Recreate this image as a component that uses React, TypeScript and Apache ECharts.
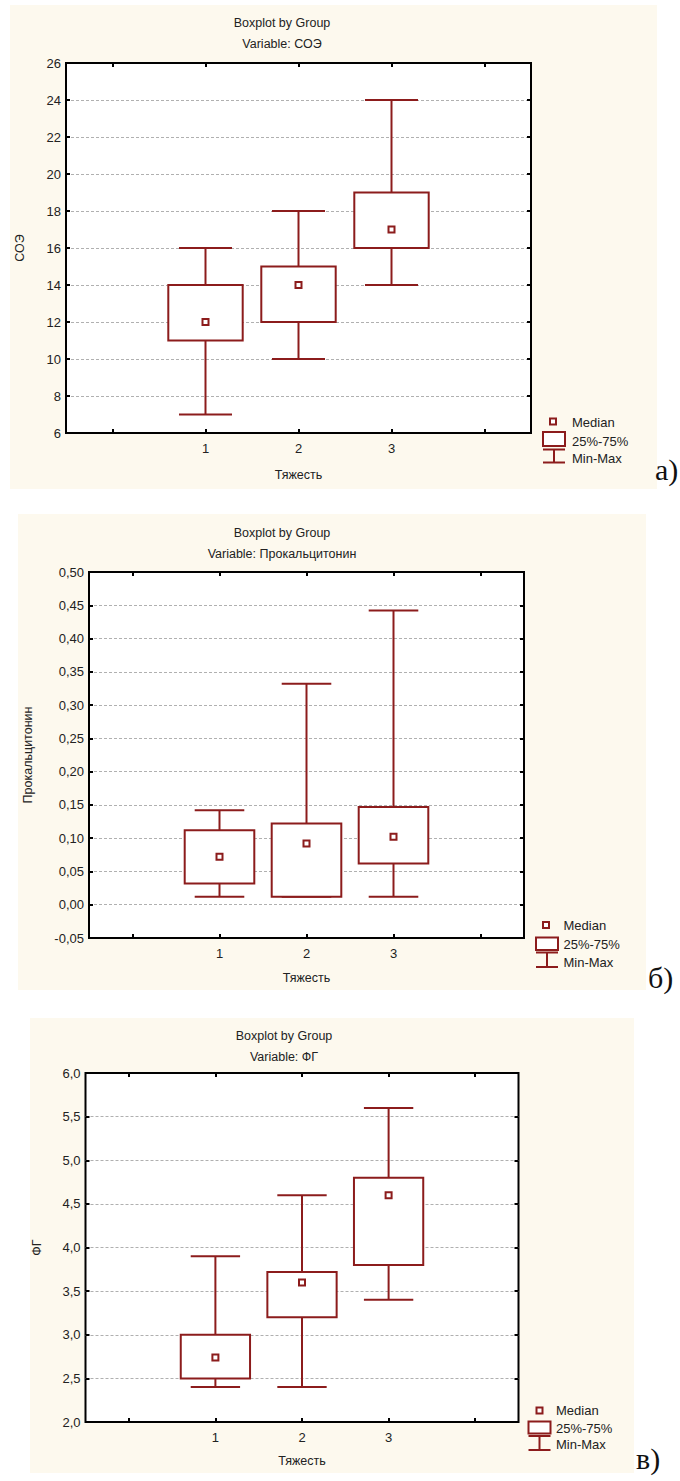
import React, { useEffect, useRef } from "react";
import * as echarts from "echarts";

// ---- data ----
const xTicks = ["0", "1", "2", "3", "4"]; // tick positions of the x axis
const groups = ["1", "2", "3"]; // Тяжесть

const soeMin = [7, 10, 14];
const soeQ1 = [11, 12, 16];
const soeMed = [12, 14, 17];
const soeQ3 = [14, 15, 19];
const soeMax = [16, 18, 24];

const pctMin = [0.012, 0.012, 0.012];
const pctQ1 = [0.032, 0.012, 0.062];
const pctMed = [0.072, 0.092, 0.102];
const pctQ3 = [0.112, 0.122, 0.147];
const pctMax = [0.142, 0.332, 0.442];

const fgMin = [2.4, 2.4, 3.4];
const fgQ1 = [2.5, 3.2, 3.8];
const fgMed = [2.74, 3.6, 4.6];
const fgQ3 = [3.0, 3.72, 4.8];
const fgMax = [3.9, 4.6, 5.6];

const legendLabels = ["Median", "25%-75%", "Min-Max"];
const titleMain = "Boxplot by Group";
const xName = "Тяжесть";

const MAROON = "#8C1C1C";
const FONT = "'Liberation Sans', Arial, sans-serif";
const CREAM = "#FDF9EE";

function buildData(mins: number[], q1: number[], med: number[], q3: number[], max: number[]) {
  return groups.map((g, i) => [xTicks.indexOf(g), mins[i], q1[i], med[i], q3[i], max[i]]);
}

const panels = [
  {
    varName: "СОЭ",
    data: buildData(soeMin, soeQ1, soeMed, soeQ3, soeMax),
    yMin: 6, yMax: 26, yInt: 2, dec: 0,
    bg: [10, 5, 647, 484],
    grid: { left: 66, top: 63, width: 465, height: 370 },
    titleX: 282, t1: 23, t2: 44,
    yNameGap: 40, xNameGap: 35,
    leg: { mx: 553, my: 421.5, tx: 572, bx: 543, bw: 22, by: 432, bh: 14, l1: 449.5, l2: 462.5, ty: [422.5, 441, 458] },
    letter: "а)", lx: 655, ly: 484,
  },
  {
    varName: "Прокальцитонин",
    data: buildData(pctMin, pctQ1, pctMed, pctQ3, pctMax),
    yMin: -0.05, yMax: 0.5, yInt: 0.05, dec: 2,
    bg: [18, 514, 628, 476],
    grid: { left: 89, top: 572, width: 435, height: 366 },
    titleX: 282, t1: 533, t2: 554,
    yNameGap: 55, xNameGap: 33,
    leg: { mx: 546, my: 925, tx: 563.5, bx: 536, bw: 22, by: 937.5, bh: 12.5, l1: 952.5, l2: 967, ty: [925.5, 944.5, 962] },
    letter: "б)", lx: 648, ly: 992,
  },
  {
    varName: "ФГ",
    data: buildData(fgMin, fgQ1, fgMed, fgQ3, fgMax),
    yMin: 2, yMax: 6, yInt: 0.5, dec: 1,
    bg: [30, 1018, 604, 455],
    grid: { left: 85.5, top: 1073, width: 433, height: 349 },
    titleX: 284, t1: 1036, t2: 1057,
    yNameGap: 42, xNameGap: 32,
    leg: { mx: 539.5, my: 1410.5, tx: 556, bx: 528.5, bw: 22, by: 1421.5, bh: 12, l1: 1436, l2: 1450, ty: [1410.5, 1428, 1444] },
    letter: "в)", lx: 636, ly: 1473,
  },
];

function renderItem(params: any, api: any) {
  const xv = api.value(0);
  const band = api.size([1, 0])[0];
  const bw = band * 0.8;
  const cw = band * 0.57;
  const pMin = api.coord([xv, api.value(1)]);
  const pQ1 = api.coord([xv, api.value(2)]);
  const pMed = api.coord([xv, api.value(3)]);
  const pQ3 = api.coord([xv, api.value(4)]);
  const pMax = api.coord([xv, api.value(5)]);
  const cx = pMed[0];
  const ls = { stroke: MAROON, lineWidth: 2, fill: null };
  return {
    type: "group",
    children: [
      { type: "line", shape: { x1: cx, y1: pQ3[1], x2: cx, y2: pMax[1] }, style: ls },
      { type: "line", shape: { x1: cx, y1: pQ1[1], x2: cx, y2: pMin[1] }, style: ls },
      { type: "line", shape: { x1: cx - cw / 2, y1: pMax[1], x2: cx + cw / 2, y2: pMax[1] }, style: ls },
      { type: "line", shape: { x1: cx - cw / 2, y1: pMin[1], x2: cx + cw / 2, y2: pMin[1] }, style: ls },
      {
        type: "rect",
        shape: { x: cx - bw / 2, y: pQ3[1], width: bw, height: pQ1[1] - pQ3[1] },
        style: { stroke: MAROON, lineWidth: 2, fill: "#fff" },
      },
      {
        type: "rect",
        shape: { x: cx - 3, y: pMed[1] - 3, width: 6, height: 6 },
        style: { stroke: MAROON, lineWidth: 2, fill: "#fff" },
      },
    ],
  };
}

function fmt(dec: number) {
  return (v: number) => (dec === 0 ? String(Math.round(v)) : v.toFixed(dec).replace(".", ","));
}

export default function App() {
  const ref = useRef<HTMLDivElement>(null);
  useEffect(() => {
    if (!ref.current) return;
    const chart = echarts.init(ref.current, null, { renderer: "svg" });
    const graphic: any[] = [];
    panels.forEach((p) => {
      graphic.push({ type: "rect", z: -100, silent: true, shape: { x: p.bg[0], y: p.bg[1], width: p.bg[2], height: p.bg[3] }, style: { fill: CREAM } });
      graphic.push({ type: "text", x: p.titleX, y: p.t1, style: { text: titleMain, fill: "#222", fontFamily: FONT, fontSize: 12.5, align: "center", verticalAlign: "middle" } });
      graphic.push({ type: "text", x: p.titleX, y: p.t2, style: { text: "Variable: " + p.varName, fill: "#222", fontFamily: FONT, fontSize: 12.5, align: "center", verticalAlign: "middle" } });
      const L = p.leg;
      graphic.push({ type: "rect", shape: { x: L.mx - 3, y: L.my - 3, width: 6, height: 6 }, style: { stroke: MAROON, lineWidth: 2, fill: "#fff" } });
      graphic.push({ type: "rect", shape: { x: L.bx, y: L.by, width: L.bw, height: L.bh }, style: { stroke: MAROON, lineWidth: 2, fill: "#fff" } });
      graphic.push({ type: "line", shape: { x1: L.bx, y1: L.l1, x2: L.bx + L.bw, y2: L.l1 }, style: { stroke: MAROON, lineWidth: 2 } });
      graphic.push({ type: "line", shape: { x1: L.bx, y1: L.l2, x2: L.bx + L.bw, y2: L.l2 }, style: { stroke: MAROON, lineWidth: 2 } });
      graphic.push({ type: "line", shape: { x1: L.bx + L.bw / 2, y1: L.l1, x2: L.bx + L.bw / 2, y2: L.l2 }, style: { stroke: MAROON, lineWidth: 2 } });
      legendLabels.forEach((lab, k) => {
        graphic.push({ type: "text", x: L.tx, y: L.ty[k], style: { text: lab, fill: "#222", fontFamily: FONT, fontSize: 13, align: "left", verticalAlign: "middle" } });
      });
      graphic.push({ type: "text", x: p.lx, y: p.ly, style: { text: p.letter, fill: "#111", fontFamily: "'Liberation Serif', 'Times New Roman', serif", fontSize: 30, align: "left", verticalAlign: "bottom" } });
    });

    const xAxis: any[] = [];
    const yAxis: any[] = [];
    panels.forEach((p, i) => {
      xAxis.push({
        type: "category", gridIndex: i, data: xTicks, position: "bottom",
        name: xName, nameLocation: "middle", nameGap: p.xNameGap,
        nameTextStyle: { color: "#222", fontFamily: FONT, fontSize: 12.5 },
        axisLine: { show: false, onZero: false },
        axisTick: { show: true, inside: true, alignWithLabel: true, interval: 0, length: 4, lineStyle: { color: "#000", width: 2 } },
        axisLabel: { interval: 0, margin: 9, color: "#222", fontFamily: FONT, fontSize: 13, formatter: (v: string) => (groups.includes(v) ? v : "") },
        splitLine: { show: false },
      });
      xAxis.push({
        type: "category", gridIndex: i, data: xTicks, position: "top",
        axisLine: { show: false, onZero: false },
        axisTick: { show: true, inside: true, alignWithLabel: true, interval: 0, length: 4, lineStyle: { color: "#000", width: 2 } },
        axisLabel: { show: false },
        splitLine: { show: false },
      });
      yAxis.push({
        type: "value", gridIndex: i, min: p.yMin, max: p.yMax, interval: p.yInt, position: "left",
        name: p.varName, nameLocation: "middle", nameGap: p.yNameGap, nameRotate: 90,
        nameTextStyle: { color: "#222", fontFamily: FONT, fontSize: 12.5 },
        axisLine: { show: false, onZero: false },
        axisTick: { show: true, inside: true, length: 4, lineStyle: { color: "#000", width: 2 } },
        axisLabel: { margin: 5, color: "#222", fontFamily: FONT, fontSize: 13, formatter: fmt(p.dec) },
        splitLine: { show: true, showMinLine: false, showMaxLine: false, lineStyle: { color: "#b0b0b0", type: [3, 2], width: 1 } },
      });
      yAxis.push({
        type: "value", gridIndex: i, min: p.yMin, max: p.yMax, interval: p.yInt, position: "right",
        axisLine: { show: false, onZero: false },
        axisTick: { show: true, inside: true, length: 4, lineStyle: { color: "#000", width: 2 } },
        axisLabel: { show: false },
        splitLine: { show: false },
      });
    });

    chart.setOption({
      animation: false,
      backgroundColor: "#fff",
      grid: panels.map((p) => ({
        left: p.grid.left, top: p.grid.top, width: p.grid.width, height: p.grid.height,
        show: true, backgroundColor: "#fff", borderColor: "#000", borderWidth: 2,
      })),
      xAxis,
      yAxis,
      series: panels.map((p, i) => ({
        type: "custom",
        xAxisIndex: 2 * i,
        yAxisIndex: 2 * i,
        renderItem,
        data: p.data,
        encode: { x: 0, y: [1, 2, 3, 4, 5] },
        z: 5,
      })),
      graphic,
    });
    return () => chart.dispose();
  }, []);
  return <div ref={ref} style={{ position: "absolute", left: 0, top: 0, width: 680, height: 1481 }} />;
}
